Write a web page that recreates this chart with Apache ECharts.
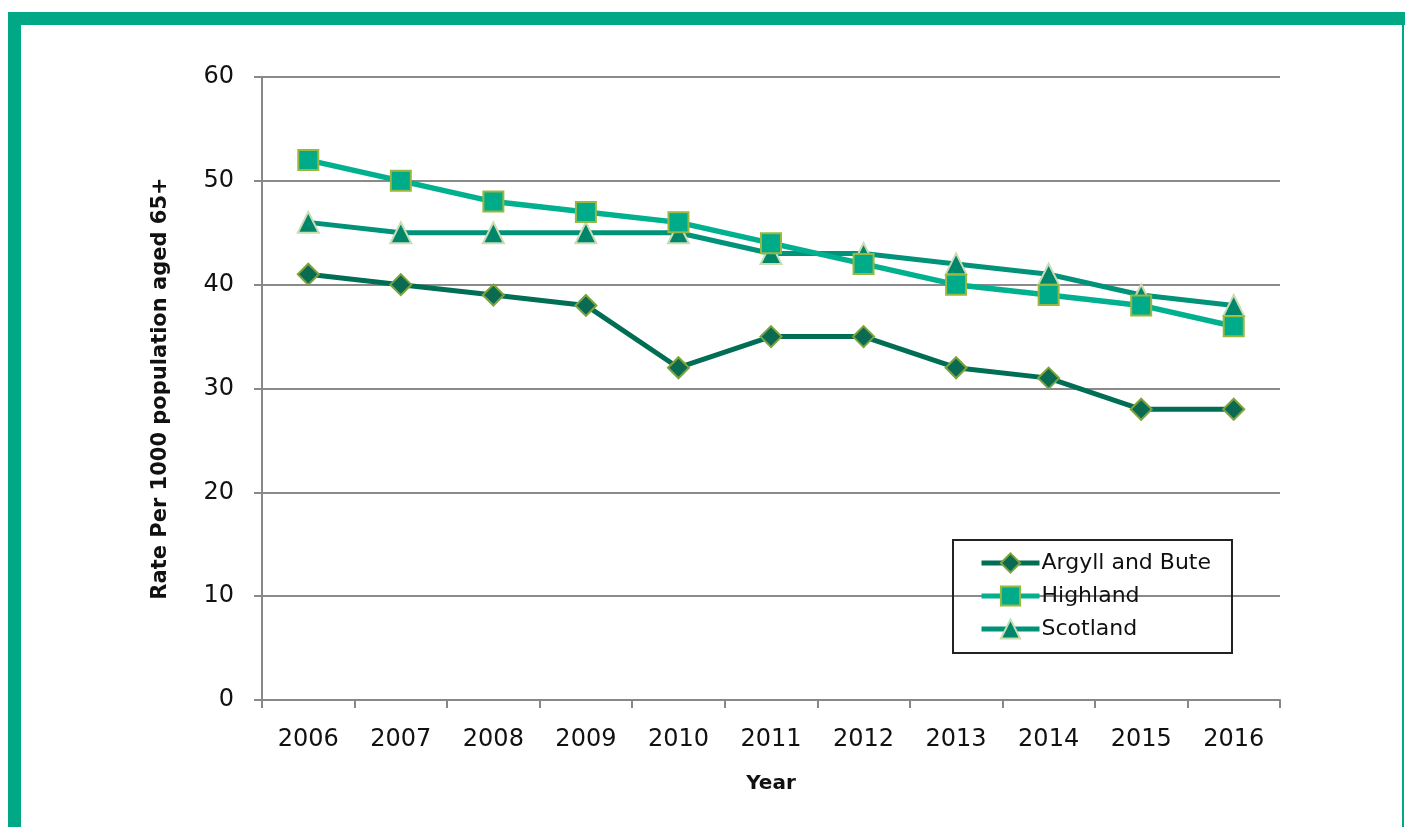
<!DOCTYPE html>
<html>
<head>
<meta charset="utf-8">
<script src="https://cdn.jsdelivr.net/npm/echarts@6/dist/echarts.min.js"></script>
<style>
  html, body { margin: 0; padding: 0; background: #fff; }
  #chart { width: 1405px; height: 827px; }
</style>
</head>
<body>
<div id="chart"></div>
<script>
const years = ["2006", "2007", "2008", "2009", "2010", "2011", "2012", "2013", "2014", "2015", "2016"];
const argyll = [41, 40, 39, 38, 32, 35, 35, 32, 31, 28, 28];
const highland = [52, 50, 48, 47, 46, 44, 42, 40, 39, 38, 36];
const scotland = [46, 45, 45, 45, 45, 43, 43, 42, 41, 39, 38];

const font = "DejaVu Sans";
const chart = echarts.init(document.getElementById("chart"));

const option = {
  animation: false,
  textStyle: { fontFamily: font },
  graphic: [
    { type: "rect", shape: { x: 8, y: 12, width: 1397, height: 13 }, style: { fill: "#00a886" } },
    { type: "rect", shape: { x: 8, y: 12, width: 13, height: 815 }, style: { fill: "#00a886" } },
    { type: "rect", shape: { x: 1402, y: 25, width: 2, height: 802 }, style: { fill: "#00a886" } }
  ],
  grid: { left: 262, right: 125, top: 77, bottom: 127 },
  legend: {
    orient: "vertical",
    left: 953,
    top: 540,
    padding: [12, 21, 13, 26],
    borderColor: "#222",
    borderWidth: 2,
    itemWidth: 58,
    itemHeight: 24,
    itemGap: 11,
    lineStyle: { width: 5 },
    textStyle: { fontFamily: font, fontSize: 22, color: "#111", padding: [0, 0, 0, -3] },
    data: ["Argyll and Bute", "Highland", "Scotland"]
  },
  xAxis: {
    type: "category",
    data: years,
    boundaryGap: true,
    name: "Year",
    nameLocation: "middle",
    nameGap: 74,
    nameTextStyle: { fontFamily: font, fontWeight: "bold", fontSize: 20, color: "#111" },
    axisLine: { lineStyle: { color: "#888", width: 2 } },
    axisTick: { show: true, length: 8, lineStyle: { color: "#888", width: 2 } },
    axisLabel: { fontSize: 24, color: "#111", margin: 28 }
  },
  yAxis: {
    type: "value",
    min: 0,
    max: 60,
    interval: 10,
    name: "Rate Per 1000 population aged 65+",
    nameLocation: "middle",
    nameGap: 91,
    nameTextStyle: { fontFamily: font, fontWeight: "bold", fontSize: 21, color: "#111" },
    axisLine: { show: true, lineStyle: { color: "#888", width: 2 } },
    axisTick: { show: true, length: 8, lineStyle: { color: "#888", width: 2 } },
    axisLabel: { fontSize: 24, color: "#111", margin: 28 },
    splitLine: { lineStyle: { color: "#8a8a8a", width: 2 } }
  },
  series: [
    {
      name: "Argyll and Bute",
      type: "line",
      data: argyll,
      symbol: "diamond",
      symbolSize: 21,
      lineStyle: { color: "#006e55", width: 5 },
      itemStyle: { color: "#0b6b52", borderColor: "#7ea33c", borderWidth: 2 },
      z: 3
    },
    {
      name: "Highland",
      type: "line",
      data: highland,
      symbol: "rect",
      symbolSize: 20,
      lineStyle: { color: "#00b08f", width: 5.5 },
      itemStyle: { color: "#00ab8a", borderColor: "#98b840", borderWidth: 2 },
      z: 4
    },
    {
      name: "Scotland",
      type: "line",
      data: scotland,
      symbol: "triangle",
      symbolSize: 21,
      lineStyle: { color: "#009379", width: 5 },
      itemStyle: { color: "#00876b", borderColor: "#c9dcb2", borderWidth: 2 },
      z: 2
    }
  ]
};

chart.setOption(option);
</script>
</body>
</html>
